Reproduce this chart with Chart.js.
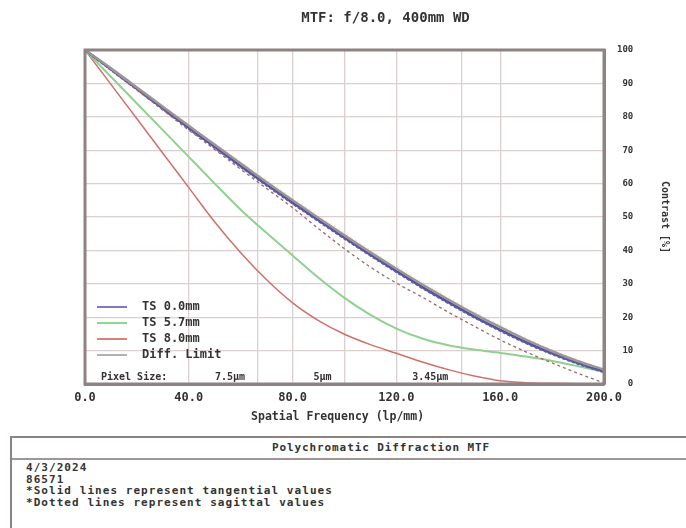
<!DOCTYPE html>
<html>
<head>
<meta charset="utf-8">
<script src="https://cdn.jsdelivr.net/npm/chart.js@4.4.1/dist/chart.umd.min.js"></script>
<style>
  html, body { margin: 0; padding: 0; background: #fff; }
  body { width: 686px; height: 528px; overflow: hidden; position: relative;
         font-family: 'DejaVu Sans Mono', monospace; color: #333; }
  #wrap { position: absolute; left: 0; top: 0; width: 686px; height: 432px; }
  #panel { position: absolute; left: 10px; top: 436px; width: 742px; height: 100px;
           border: 2px solid #8f8282; box-sizing: border-box; }
  #panel .hd { height: 20px; border-bottom: 2px solid #a09494; text-align: center;
               font-weight: bold; font-size: 11px; letter-spacing: 0.9px; line-height: 20px; }
  #panel .bd { padding: 2px 0 0 14px; font-weight: bold; font-size: 11px;
               letter-spacing: 1.05px; line-height: 11.7px; }
</style>
</head>
<body>
<div id="wrap"><canvas id="mtf" width="686" height="432"></canvas></div>
<div id="panel">
  <div class="hd">Polychromatic Diffraction MTF</div>
  <div class="bd">4/3/2024<br>86571<br>*Solid lines represent tangential values<br>*Dotted lines represent sagittal values</div>
</div>
<script>
// spatial frequency samples, lp/mm
const freq = [0, 10, 20, 30, 40, 50, 60, 70, 80, 90, 100, 110, 120, 130, 140, 150, 160, 170, 180, 190, 200];

// contrast %
const ts00Tan = [100, 94.2, 88.4, 82.5, 76.7, 71.0, 65.3, 59.7, 54.3, 49.0, 43.8, 38.7, 33.8, 29.0, 24.5, 20.2, 16.2, 12.5, 9.2, 6.3, 3.8];
const ts00Sag = [100, 94.0, 88.2, 82.3, 76.4, 70.7, 65.0, 59.4, 54.0, 48.7, 43.5, 38.4, 33.5, 28.7, 24.2, 19.9, 15.9, 12.2, 8.9, 6.0, 3.5];
const ts57Tan = [100, 92.0, 84.0, 76.0, 68.0, 60.0, 52.2, 45.2, 38.5, 31.8, 25.8, 20.7, 16.6, 13.6, 11.6, 10.3, 9.3, 8.2, 6.9, 5.3, 3.6];
const ts57Sag = [100, 94.6, 89.0, 83.3, 77.6, 72.0, 66.5, 61.0, 55.7, 50.5, 45.3, 40.2, 35.3, 30.5, 26.0, 21.6, 17.6, 13.8, 10.3, 7.2, 4.5];
const ts80Tan = [100, 89.7, 79.4, 69.1, 58.8, 48.5, 39.3, 31.2, 24.3, 19.0, 14.9, 11.8, 9.2, 6.6, 4.3, 2.4, 1.0, 0.4, 0.2, 0.1, 0];
const ts80Sag = [100, 94.0, 88.0, 82.0, 76.0, 70.2, 64.3, 58.5, 52.8, 46.5, 40.5, 35.0, 30.2, 26.0, 21.5, 17.3, 13.2, 9.6, 6.3, 3.2, 0.3];
const diffLimit = [100, 94.5, 88.8, 83.0, 77.3, 71.6, 66.0, 60.4, 55.0, 49.7, 44.5, 39.4, 34.5, 29.8, 25.3, 21.0, 17.0, 13.2, 9.8, 6.8, 4.3];

// pixel-size Nyquist markers
const pixelNyquist = [66.7, 100, 145];
const pixelLabels = ['7.5\u00b5m', '5\u00b5m', '3.45\u00b5m'];

const legendLabels = ['TS 0.0mm', 'TS 5.7mm', 'TS 8.0mm', 'Diff. Limit'];
const legendColors = ['#7a7acc', '#92d492', '#d8827a', '#b4b0b0'];

const FONT = "'DejaVu Sans Mono', monospace";
const pts = arr => freq.map((f, i) => ({x: f, y: arr[i]}));

const line = (label, data, color, width, dash) => ({
  label, data: pts(data), borderColor: color, borderWidth: width,
  borderDash: dash || [], pointRadius: 0, fill: false,
  cubicInterpolationMode: 'monotone'
});

// legend, border and pixel-size row drawn inside the plot
const decor = {
  id: 'decor',
  afterDraw(chart) {
    const {ctx, chartArea: a, scales: {x}} = chart;
    ctx.save();
    ctx.strokeStyle = '#8f8282';
    ctx.lineWidth = 3;
    ctx.strokeRect(a.left, a.top, a.right - a.left, a.bottom - a.top);

    ctx.font = 'bold 12px ' + FONT;
    ctx.textBaseline = 'middle';
    ctx.fillStyle = '#333';
    legendLabels.forEach((t, i) => {
      const y = a.bottom - 77 + i * 16;
      ctx.strokeStyle = legendColors[i];
      ctx.lineWidth = 2;
      ctx.beginPath();
      ctx.moveTo(a.left + 12, y);
      ctx.lineTo(a.left + 42, y);
      ctx.stroke();
      ctx.fillText(t, a.left + 57, y);
    });

    ctx.font = 'bold 10px ' + FONT;
    ctx.textAlign = 'left';
    ctx.fillText('Pixel Size:', a.left + 16, a.bottom - 7);
    ctx.textAlign = 'right';
    pixelNyquist.forEach((v, i) => {
      ctx.fillText(pixelLabels[i], x.getPixelForValue(v) - 13, a.bottom - 7);
    });
    ctx.restore();
  }
};

new Chart(document.getElementById('mtf'), {
  type: 'line',
  data: {
    datasets: [
      line('Diff. Limit', diffLimit, '#9c9499', 2.5),
      line('TS 5.7mm S', ts57Sag, 'rgba(220,214,140,0.6)', 1, [2, 3]),
      line('TS 8.0mm S', ts80Sag, '#9a6a66', 1.3, [3, 3]),
      line('TS 0.0mm S', ts00Sag, '#5c5ca8', 2, [3, 2]),
      line('TS 0.0mm', ts00Tan, '#4e4e9a', 2.5),
      line('TS 5.7mm', ts57Tan, '#90d090', 2),
      line('TS 8.0mm', ts80Tan, '#d0706a', 1.5)
    ]
  },
  options: {
    responsive: false,
    animation: false,
    layout: {padding: {left: 85, top: 0, right: 0, bottom: 0}},
    plugins: {
      legend: {display: false},
      tooltip: {enabled: false},
      title: {
        display: true,
        text: 'MTF: f/8.0, 400mm WD',
        color: '#333',
        font: {family: FONT, size: 14, weight: 'bold'},
        padding: {top: 10, bottom: 23.2}
      }
    },
    scales: {
      x: {
        type: 'linear', min: 0, max: 200,
        afterFit: s => { s.height = 48; },
        afterBuildTicks: s => {
          const t = [0, 40, 80, 120, 160, 200].concat(pixelNyquist);
          s.ticks = t.sort((p, q) => p - q).map(v => ({value: v}));
        },
        ticks: {
          padding: 7,
          color: '#333',
          font: {family: FONT, size: 12, weight: 'bold'},
          callback: v => (v % 40 === 0 ? v.toFixed(1) : '')
        },
        grid: {color: '#dccfcf', lineWidth: 1.3, drawTicks: false},
        border: {display: true, color: '#8f8282', width: 3},
        title: {
          display: true, text: 'Spatial Frequency (lp/mm)  ', color: '#333',
          font: {family: FONT, size: 11.5, weight: 'bold'},
          padding: {top: 0, bottom: 8.5}
        }
      },
      y: {
        position: 'right', min: 0, max: 100,
        afterFit: s => { s.width = 82; },
        ticks: {
          stepSize: 10, padding: 13, crossAlign: 'near',
          color: '#333',
          font: {family: FONT, size: 9, weight: 'bold'},
          callback: v => String(v).padStart(3, ' ')
        },
        grid: {color: '#dccfcf', lineWidth: 1.3, drawTicks: false},
        border: {display: true, color: '#8f8282', width: 3},
        title: {
          display: true, text: 'Contrast [%]', color: '#333',
          font: {family: FONT, size: 10, weight: 'bold'},
          padding: {top: 15, bottom: 0}
        }
      }
    }
  },
  plugins: [decor]
});
</script>
</body>
</html>
